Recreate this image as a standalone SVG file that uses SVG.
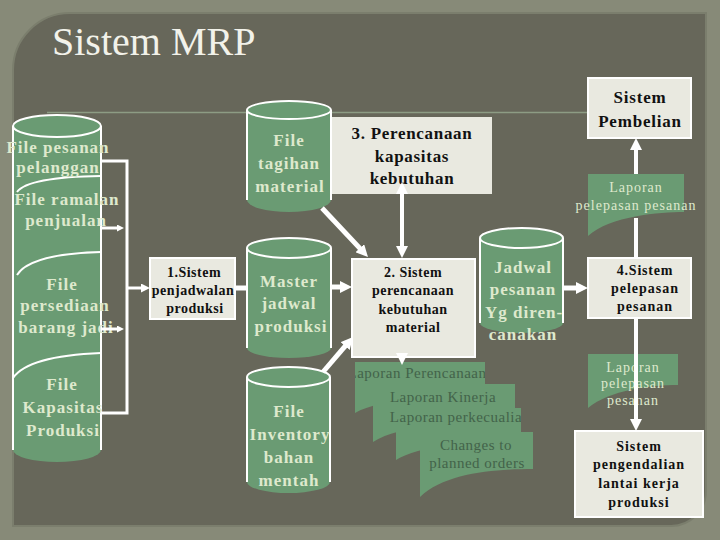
<svg xmlns="http://www.w3.org/2000/svg" width="720" height="540" viewBox="0 0 720 540">
<defs>
<style>
.cyl{fill:#6A9B73}
.cw{fill:none;stroke:#fff;stroke-width:2}
.ct{font-family:"Liberation Serif",serif;font-weight:bold;font-size:17px;fill:#DEE9CD;letter-spacing:1px;text-anchor:middle}
.box{fill:#E9E9E0;stroke:#fff;stroke-width:2}
.bt{font-family:"Liberation Serif",serif;font-weight:bold;font-size:14px;fill:#111;text-anchor:middle;letter-spacing:0.5px}
.doc{fill:#6A9B73}
.dt{font-family:"Liberation Serif",serif;font-size:15px;fill:#43634A;text-anchor:middle;letter-spacing:0.5px}
.lt{font-family:"Liberation Serif",serif;font-size:14px;fill:#DEE9CD;text-anchor:middle;letter-spacing:1px}
.w3{stroke:#fff;stroke-width:3;fill:none}
.w4{stroke:#fff;stroke-width:4;fill:none}
.w5{stroke:#fff;stroke-width:5;fill:none}
</style>
<marker id="ah" markerUnits="userSpaceOnUse" markerWidth="12" markerHeight="12" refX="3" refY="6" orient="auto-start-reverse" viewBox="0 0 12 12">
<path d="M0,0 L12,6 L0,12 Z" fill="#fff"/>
</marker>
<marker id="am" markerUnits="userSpaceOnUse" markerWidth="9" markerHeight="9" refX="2" refY="4.5" orient="auto" viewBox="0 0 9 9">
<path d="M0,0 L9,4.5 L0,9 Z" fill="#fff"/>
</marker>
<marker id="as" markerUnits="userSpaceOnUse" markerWidth="7" markerHeight="7" refX="2" refY="3.5" orient="auto" viewBox="0 0 7 7">
<path d="M0,0 L7,3.5 L0,7 Z" fill="#fff"/>
</marker>
<clipPath id="docclip">
<path d="M355,362 H485 V395 C450,395 380,398 355,413 Z"/>
<path d="M373,384 H515 V420 C480,420 400,424 373,442 Z"/>
<path d="M396,408 H521 V440 C490,440 420,444 396,460 Z"/>
<path d="M420,432 H533 V469 C495,469 445,473 420,497 Z"/>
</clipPath>
</defs>

<rect x="0" y="0" width="720" height="540" fill="#878A78"/>
<path d="M13,70 A57,57 0 0 1 70,13 H706 V491 A35,35 0 0 1 671,526 H13 Z" fill="#67675A" stroke="#7B7E6D" stroke-width="2"/>
<line x1="47" y1="112.5" x2="588" y2="112.5" stroke="#8D9C84" stroke-width="1.5"/>
<text x="52" y="55" font-family="Liberation Serif, serif" font-size="40" fill="#F2F2EA">Sistem MRP</text>

<g id="left-files">
<path class="cyl" d="M13,126 V450 A44,12 0 0 0 101,450 V126 Z"/>
<line x1="13" y1="126" x2="13" y2="450" stroke="#fff" stroke-width="2"/>
<line x1="101" y1="126" x2="101" y2="450" stroke="#fff" stroke-width="2"/>
<ellipse class="cyl" cx="57" cy="126" rx="44" ry="11" stroke="#fff" stroke-width="2"/>
<path class="cw" d="M17,192 Q28,177 101,176"/>
<path class="cw" d="M17,275 Q30,254 101,252"/>
<path class="cw" d="M13,378 Q28,356 101,353"/>
<text class="ct" x="58" y="153">File pesanan</text>
<text class="ct" x="58" y="173">pelanggan</text>
<text class="ct" x="67" y="205">File ramalan</text>
<text class="ct" x="66" y="226">penjualan</text>
<text class="ct" x="62" y="290">File</text>
<text class="ct" x="65" y="311">persediaan</text>
<text class="ct" x="66" y="333">barang jadi</text>
<text class="ct" x="62" y="390">File</text>
<text class="ct" x="63" y="413">Kapasitas</text>
<text class="ct" x="63" y="436">Produksi</text>
</g>

<g id="box1">
<rect class="box" x="150" y="258" width="85" height="61"/>
<text class="bt" x="194" y="277">1.Sistem</text>
<text class="bt" x="193" y="295">penjadwalan</text>
<text class="bt" x="195" y="313">produksi</text>
</g>

<g id="file-tagihan">
<path class="cyl" d="M247,110 V200 A42,12 0 0 0 331,200 V110 Z"/>
<line x1="247" y1="110" x2="247" y2="200" stroke="#fff" stroke-width="2"/>
<line x1="331" y1="110" x2="331" y2="200" stroke="#fff" stroke-width="2"/>
<ellipse class="cyl" cx="289" cy="110" rx="42" ry="9" stroke="#fff" stroke-width="2"/>
<text class="ct" x="289" y="146">File</text>
<text class="ct" x="289" y="169">tagihan</text>
<text class="ct" x="290" y="192">material</text>
</g>

<g id="master-jadwal">
<path class="cyl" d="M247,248 V348 A42,10 0 0 0 331,348 V248 Z"/>
<line x1="247" y1="248" x2="247" y2="348" stroke="#fff" stroke-width="2"/>
<line x1="331" y1="248" x2="331" y2="348" stroke="#fff" stroke-width="2"/>
<ellipse class="cyl" cx="289" cy="248" rx="42" ry="10" stroke="#fff" stroke-width="2"/>
<text class="ct" x="289" y="287">Master</text>
<text class="ct" x="289" y="309">jadwal</text>
<text class="ct" x="291" y="332">produksi</text>
</g>

<g id="file-inventory">
<path class="cyl" d="M247,377 V482 A41.5,11 0 0 0 330,482 V377 Z"/>
<line x1="247" y1="377" x2="247" y2="482" stroke="#fff" stroke-width="2"/>
<line x1="330" y1="377" x2="330" y2="482" stroke="#fff" stroke-width="2"/>
<ellipse class="cyl" cx="288.5" cy="377" rx="41.5" ry="10" stroke="#fff" stroke-width="2"/>
<text class="ct" x="289" y="417">File</text>
<text class="ct" x="290" y="440">Inventory</text>
<text class="ct" x="289" y="463">bahan</text>
<text class="ct" x="289" y="486">mentah</text>
</g>

<g id="box3">
<rect x="332" y="117" width="160" height="77" fill="#E9E9E0"/>
<text class="bt" x="412" y="139" font-size="17" style="font-size:17px;letter-spacing:0.7px">3. Perencanaan</text>
<text class="bt" x="412" y="162" style="font-size:17px;letter-spacing:0.7px">kapasitas</text>
<text class="bt" x="412" y="184" style="font-size:17px;letter-spacing:0.7px">kebutuhan</text>
</g>

<g id="box2">
<rect class="box" x="352" y="259" width="123" height="98"/>
<text class="bt" x="413" y="277">2. Sistem</text>
<text class="bt" x="413" y="295">perencanaan</text>
<text class="bt" x="413" y="314">kebutuhan</text>
<text class="bt" x="413" y="332">material</text>
</g>

<g id="jadwal-pesanan">
<path class="cyl" d="M480,238 V323 A41.5,10 0 0 0 563,323 V238 Z"/>
<line x1="480" y1="238" x2="480" y2="323" stroke="#fff" stroke-width="2"/>
<line x1="563" y1="238" x2="563" y2="323" stroke="#fff" stroke-width="2"/>
<ellipse class="cyl" cx="521.5" cy="238" rx="41.5" ry="10" stroke="#fff" stroke-width="2"/>
<text class="ct" x="523" y="273">Jadwal</text>
<text class="ct" x="523" y="295">pesanan</text>
<text class="ct" x="524" y="318">Yg diren-</text>
<text class="ct" x="523" y="340">canakan</text>
</g>

<g id="reports">
<path class="doc" d="M355,362 H485 V395 C450,395 380,398 355,413 Z"/>
<path class="doc" d="M373,384 H515 V420 C480,420 400,424 373,442 Z"/>
<path class="doc" d="M396,408 H521 V440 C490,440 420,444 396,460 Z"/>
<path class="doc" d="M420,432 H533 V469 C495,469 445,473 420,497 Z"/>
<g clip-path="url(#docclip)">
<text class="dt" x="417" y="378">Laporan Perencanaan</text>
<text class="dt" x="443" y="402">Laporan Kinerja</text>
<text class="dt" x="460" y="422">Laporan perkecualian</text>
<text class="dt" x="476" y="450">Changes to</text>
<text class="dt" x="477" y="468">planned orders</text>
</g>
</g>

<g id="sistem-pembelian">
<rect class="box" x="588" y="78" width="103" height="60"/>
<text class="bt" x="640" y="103" style="font-size:17px;letter-spacing:0.8px">Sistem</text>
<text class="bt" x="640" y="127" style="font-size:17px;letter-spacing:0.8px">Pembelian</text>
</g>

<g id="laporan-pelepasan-1">
<path class="doc" d="M588,174 H684 V212 C660,212 610,216 588,236 Z"/>
<text class="lt" x="636" y="192">Laporan</text>
<text class="lt" x="636" y="210">pelepasan pesanan</text>
</g>

<g id="box4">
<rect class="box" x="588" y="258" width="103" height="60"/>
<text class="bt" x="645" y="275" style="letter-spacing:0.8px">4.Sistem</text>
<text class="bt" x="645" y="293" style="letter-spacing:1px">pelepasan</text>
<text class="bt" x="645" y="311" style="letter-spacing:1px">pesanan</text>
</g>

<g id="laporan-pelepasan-2">
<path class="doc" d="M588,354 H678 V385 C650,385 610,390 588,408 Z"/>
<text class="lt" x="633" y="372">Laporan</text>
<text class="lt" x="633" y="388">pelepasan</text>
<text class="lt" x="633" y="405">pesanan</text>
</g>

<g id="sistem-pengendalian">
<rect class="box" x="575" y="431" width="128" height="86"/>
<text class="bt" x="639" y="451" style="letter-spacing:1px">Sistem</text>
<text class="bt" x="639" y="469" style="letter-spacing:1px">pengendalian</text>
<text class="bt" x="639" y="488" style="letter-spacing:1px">lantai kerja</text>
<text class="bt" x="639" y="507" style="letter-spacing:1px">produksi</text>
</g>

<g id="connectors">
<path class="w3" d="M101,161 H127 V413 H101"/>
<line class="w3" x1="101" y1="228" x2="119" y2="228" marker-end="url(#as)"/>
<line class="w3" x1="101" y1="329" x2="119" y2="329" marker-end="url(#as)"/>
<line class="w3" x1="127" y1="288" x2="143" y2="288" marker-end="url(#am)"/>
<line class="w5" x1="235" y1="288" x2="247" y2="288"/>
<line class="w5" x1="322" y1="208" x2="361.8" y2="250.4" marker-end="url(#ah)"/>
<line class="w5" x1="331" y1="287" x2="343" y2="287" marker-end="url(#ah)"/>
<line class="w5" x1="323" y1="372" x2="347.1" y2="343.8" marker-end="url(#ah)"/>
<line class="w4" x1="402" y1="191" x2="402" y2="249" marker-start="url(#ah)" marker-end="url(#ah)"/>
<line class="w4" x1="402" y1="355" x2="402" y2="356" marker-end="url(#ah)"/>
<line class="w5" x1="563" y1="288" x2="579" y2="288" marker-end="url(#ah)"/>
<line class="w4" x1="636" y1="174" x2="636" y2="147" marker-end="url(#ah)"/>
<line class="w4" x1="636" y1="258" x2="636" y2="218"/>
<line class="w4" x1="636" y1="318" x2="636" y2="422" marker-end="url(#ah)"/>
</g>
</svg>
